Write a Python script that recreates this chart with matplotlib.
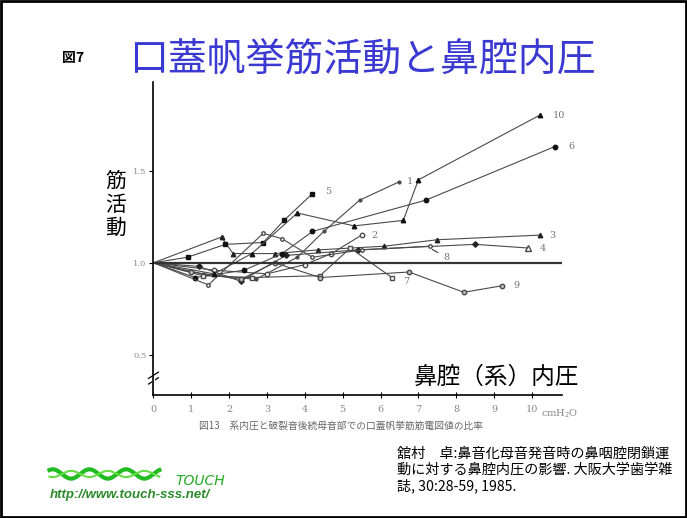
import matplotlib.pyplot as plt
import numpy as np
from matplotlib.patches import Rectangle

plt.rcParams['font.family'] = ['Noto Sans CJK JP', 'DejaVu Sans']

# pressure (cmH2O) / EMG ratio for each subject line
s1_x = [0, 1.3, 2.7, 3.8, 4.5, 5.45, 6.5]
s1_y = [1.0, 0.94, 0.91, 1.03, 1.17, 1.34, 1.44]
s2_x = [0, 1.6, 3.0, 4.0, 4.7, 5.5]
s2_y = [1.0, 0.96, 0.94, 0.99, 1.05, 1.15]
s3_x = [0, 1.8, 2.1, 3.2, 4.35, 6.1, 7.5, 10.2]
s3_y = [1.0, 1.14, 1.05, 1.05, 1.07, 1.09, 1.125, 1.15]
s4_x = [0, 1.2, 2.3, 3.5, 5.4, 8.5, 9.9]
s4_y = [1.0, 0.98, 0.90, 1.04, 1.07, 1.10, 1.08]
s5_x = [0, 0.9, 1.9, 2.9, 3.45, 4.2]
s5_y = [1.0, 1.03, 1.10, 1.11, 1.23, 1.375]
s6_x = [0, 1.1, 2.4, 3.4, 4.2, 7.2, 10.6]
s6_y = [1.0, 0.92, 0.96, 1.05, 1.17, 1.34, 1.63]
s7_x = [0, 1.3, 2.6, 4.4, 5.2, 6.3]
s7_y = [1.0, 0.93, 0.92, 0.93, 1.08, 0.92]
s8_x = [0, 1.45, 2.9, 3.4, 4.2, 5.5, 7.3]
s8_y = [1.0, 0.88, 1.16, 1.13, 1.03, 1.07, 1.09]
s9_x = [0, 1.0, 2.3, 3.2, 4.4, 6.75, 8.2, 9.2]
s9_y = [1.0, 0.95, 0.91, 1.0, 0.92, 0.95, 0.84, 0.875]
s10_x = [0, 1.6, 2.6, 3.8, 5.3, 6.6, 7.0, 10.2]
s10_y = [1.0, 0.94, 1.05, 1.27, 1.20, 1.23, 1.45, 1.80]

x_ticks = list(range(11))
y_ticks = [0.5, 1.0, 1.5]

fig = plt.figure(figsize=(6.87, 5.18), dpi=100)
fig.patches.append(Rectangle((0.002, 0.002), 0.996, 0.996, transform=fig.transFigure,
                             fill=False, edgecolor='black', linewidth=2))

ax = fig.add_axes([0.2234, 0.2375, 0.595, 0.604])
ax.set_xlim(0, 10.8)
ax.set_ylim(0.283, 1.98)
for side in ['top', 'right']:
    ax.spines[side].set_visible(False)
ax.spines['left'].set_linewidth(1.2)
ax.spines['bottom'].set_linewidth(1.2)

lc = '#4a4a4a'
kw = dict(color=lc, linewidth=0.8)
ax.plot(s1_x, s1_y, marker='o', markersize=2, markevery=slice(1, None), mfc=lc, mec=lc, **kw)
ax.plot(s2_x, s2_y, marker='o', markersize=3.2, markevery=slice(1, None), mfc='white', mec=lc, **kw)
ax.plot(s3_x, s3_y, marker='^', markersize=3.2, markevery=slice(1, None), mfc='#222', mec='#222', **kw)
ax.plot(s4_x, s4_y, marker='D', markersize=2.8, markevery=slice(1, -1), mfc='#222', mec='#222', **kw)
ax.plot(s4_x[-1:], s4_y[-1:], marker='^', markersize=4, mfc='white', mec=lc, linestyle='none')
ax.plot(s5_x, s5_y, marker='s', markersize=3.2, markevery=slice(1, None), mfc='#111', mec='#111', **kw)
ax.plot(s6_x, s6_y, marker='o', markersize=3.2, markevery=slice(1, None), mfc='#111', mec='#111', **kw)
ax.plot(s7_x, s7_y, marker='s', markersize=3.2, markevery=slice(1, None), mfc='white', mec=lc, **kw)
ax.plot(s8_x, s8_y, marker='o', markersize=2.5, markevery=slice(1, None), mfc='white', mec=lc, **kw)
ax.plot(s9_x, s9_y, marker='o', markersize=3.2, markevery=slice(1, None), mfc='#bbb', mec=lc, **kw)
ax.plot(s10_x, s10_y, marker='^', markersize=3.2, markevery=slice(1, None), mfc='#111', mec='#111', **kw)
ax.plot([0, 10.8], [1.0, 1.0], color='#333', linewidth=1.6)

# series numbers
tc = '#777'
sk = dict(fontsize=7, color=tc, family='DejaVu Serif', va='center')
ax.text(s1_x[-1] + 0.2, s1_y[-1], '1', **sk)
ax.text(s2_x[-1] + 0.25, s2_y[-1], '2', **sk)
ax.text(s3_x[-1] + 0.25, s3_y[-1], '3', **sk)
ax.text(s4_x[-1] + 0.3, s4_y[-1], '4', **sk)
ax.text(s5_x[-1] + 0.35, s5_y[-1] + 0.01, '5', **sk)
ax.text(s6_x[-1] + 0.35, s6_y[-1], '6', **sk)
ax.text(s7_x[-1] + 0.3, s7_y[-1] - 0.02, '7', **sk)
ax.text(s9_x[-1] + 0.3, s9_y[-1], '9', **sk)
ax.text(s10_x[-1] + 0.35, s10_y[-1], '10', **sk)
ax.annotate('8', xy=(7.3, 1.08), xytext=(7.65, 1.03), fontsize=7, color=tc,
            family='DejaVu Serif', va='center',
            arrowprops=dict(arrowstyle='-', color='#333', lw=0.8))

ax.set_xticks(x_ticks)
ax.set_xticklabels([str(v) for v in x_ticks], family='DejaVu Serif', fontsize=7, color='#888')
ax.set_yticks(y_ticks)
ax.set_yticklabels(['0.5', '1.0', '1.5'], family='DejaVu Serif', fontsize=6, color='#888')
ax.tick_params(axis='x', direction='inout', length=4, width=0.8, pad=5)
ax.tick_params(axis='y', direction='out', length=3, width=0.8, pad=2)
ax.text(10.25, -0.04, 'cmH$_2$O', transform=ax.get_xaxis_transform(), fontsize=7,
        color='#888', family='DejaVu Serif', va='top')

# axis break marks
for dy in [0.0, 0.018]:
    ax.plot([-0.012, 0.012], [0.035 + dy, 0.055 + dy], transform=ax.transAxes,
            color='black', linewidth=0.9, clip_on=False)
ax.plot([0, 0], [0.044, 0.055], transform=ax.transAxes, color='white', linewidth=2.2, clip_on=False)

ax.text(0.84, 0.058, '鼻腔（系）内圧', transform=ax.transAxes, fontsize=17,
        ha='center', va='center', color='black')

fig.text(0.09, 0.888, '図7', fontsize=10, fontweight='bold', ha='left', va='center')
fig.text(0.527, 0.882, '口蓋帆挙筋活動と鼻腔内圧', fontsize=28, color='#3a3ad2',
         ha='center', va='center')
fig.text(0.168, 0.605, '筋\n活\n動', fontsize=15, ha='center', va='center', linespacing=1.1)
fig.text(0.496, 0.178, '図13　系内圧と破裂音後続母音部での口蓋帆挙筋筋電図値の比率',
         fontsize=7, color='#666', ha='center', va='center')

fig.text(0.578, 0.093, '舘村　卓:鼻音化母音発音時の鼻咽腔閉鎖運\n動に対する鼻腔内圧の影響. 大阪大学歯学雑\n誌, 30:28-59, 1985.',
         fontsize=10.2, ha='left', va='center', linespacing=1.15)

# TOUCH logo
t = np.linspace(0, 3 * np.pi, 200)
lx = 0.072 + t / (3 * np.pi) * 0.16
fig.add_artist(plt.Line2D(lx, 0.085 + 0.009 * np.sin(t * 2 + 1.0), color='#22bb22',
                          linewidth=3, transform=fig.transFigure))
fig.add_artist(plt.Line2D(lx, 0.085 - 0.006 * np.sin(t * 2 + 1.0), color='#66dd44',
                          linewidth=1.5, transform=fig.transFigure))
fig.text(0.255, 0.072, 'TOUCH', fontsize=10, color='#22aa22', style='italic',
         family='DejaVu Sans', ha='left', va='center')
fig.text(0.072, 0.045, 'http://www.touch-sss.net/', fontsize=9.5, color='#2a8a2a',
         style='italic', fontweight='bold', family='Liberation Sans', ha='left', va='center')

fig.savefig('out.png', dpi=100)
